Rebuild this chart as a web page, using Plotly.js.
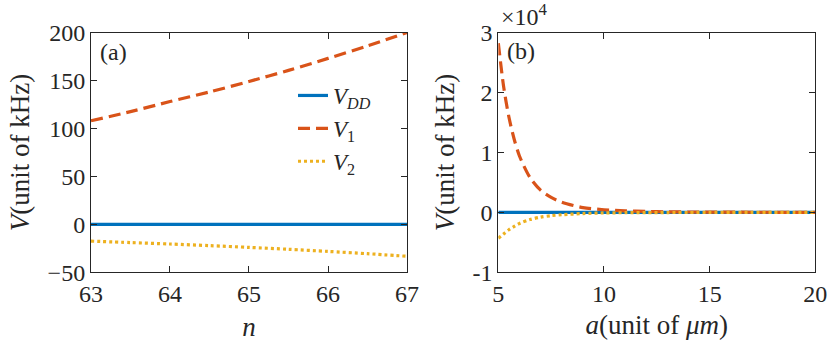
<!DOCTYPE html>
<html><head><meta charset="utf-8">
<script src="https://cdn.plot.ly/plotly-3.0.1.min.js"></script>
<style>
html,body{margin:0;padding:0;background:#fff}
#chart{width:830px;height:348px}
</style>
</head><body><div id="chart"></div>
<script>
// Panel (a): versus principal quantum number n
const nVals = [63, 63.5, 64, 64.5, 65, 65.5, 66, 66.5, 67];
const vddN  = [0, 0, 0, 0, 0, 0, 0, 0, 0];
const v1N   = [108, 117.5, 128, 138, 149, 160.5, 173, 186, 200];
const v2N   = [-17.5, -19, -20.5, -22.2, -24, -26, -28.2, -30.6, -33.3];
// Panel (b): versus distance a (um), values in kHz
const aVals = [5, 5.25, 5.5, 5.75, 6, 6.5, 7, 7.5, 8, 9, 10, 11, 12, 13, 14, 15, 16, 17, 18, 19, 20];
const vddA  = [0, 0, 0, 0, 0, 0, 0, 0, 0, 0, 0, 0, 0, 0, 0, 0, 0, 0, 0, 0, 0];
const v1A   = [28200, 21000, 15900, 12200, 9400, 5800, 3700, 2500, 1700, 800, 440, 250, 150, 90, 60, 40, 30, 20, 15, 10, 8];
const v2A   = [-4300, -3600, -2900, -2350, -1850, -1200, -800, -550, -400, -200, -100, -60, -40, -30, -20, -15, -10, -8, -6, -5, -4];
// Tick labels
const xTicksA = [63, 64, 65, 66, 67];
const yTicksA = [-50, 0, 50, 100, 150, 200];
const xTicksB = [5, 10, 15, 20];
const yTickValsB = [-10000, 0, 10000, 20000, 30000];
const yTickTextB = ['-1', '0', '1', '2', '3'];
const names = ['<i>V<sub>DD</sub></i>', '<i>V</i><sub>1</sub>', '<i>V</i><sub>2</sub>'];

const C = ['#0072BD', '#D95319', '#EDB120'];
const F = 'Liberation Serif';
const dashes = ['solid', '12px,6px', '3px,3px'];

function tr(x, y, i, xa, ya, showLeg) {
  return {x: x, y: y, type: 'scatter', mode: 'lines', name: names[i],
    xaxis: xa, yaxis: ya, showlegend: showLeg,
    line: {color: C[i], width: 3.2, dash: dashes[i], shape: 'spline', smoothing: 0.8}};
}
const data = [
  tr(nVals, vddN, 0, 'x', 'y', true),
  tr(nVals, v1N, 1, 'x', 'y', true),
  tr(nVals, v2N, 2, 'x', 'y', true),
  tr(aVals, vddA, 0, 'x2', 'y2', false),
  tr(aVals, v1A, 1, 'x2', 'y2', false),
  tr(aVals, v2A, 2, 'x2', 'y2', false)
];

function ax(extra) {
  return Object.assign({showline: true, linecolor: '#262626', linewidth: 1, mirror: 'allticks',
    ticks: 'inside', ticklen: 6, tickcolor: '#262626', showgrid: false, zeroline: false,
    tickfont: {family: F, size: 24}}, extra);
}
function tf() { return {family: F, size: 27}; }

const layout = {
  width: 830, height: 348,
  margin: {l: 0, r: 0, t: 0, b: 0},
  font: {family: F, size: 24, color: '#262626'},
  xaxis: ax({domain: [0.1096, 0.4904], range: [63, 67], tickvals: xTicksA,
    anchor: 'y', title: {text: '<i>n</i>', font: tf(), standoff: 10}}),
  yaxis: ax({domain: [0.2175, 0.9066], range: [-50, 200], tickvals: yTicksA,
    anchor: 'x', title: {text: '<i>V</i>(unit of kHz)', font: tf(), standoff: 10}}),
  xaxis2: ax({domain: [0.6004, 0.9823], range: [5, 20], tickvals: xTicksB,
    anchor: 'y2', title: {text: '<i>a</i>(unit of <i>&#956;m</i>)', font: tf(), standoff: 8}}),
  yaxis2: ax({domain: [0.2175, 0.9066], range: [-10000, 30000],
    tickvals: yTickValsB, ticktext: yTickTextB,
    anchor: 'x2', title: {text: '<i>V</i>(unit of kHz)', font: tf(), standoff: 10}}),
  legend: {bgcolor: 'rgba(0,0,0,0)', borderwidth: 0, yanchor: 'top', xanchor: 'left',
    x: 293 / 830, y: 1 - 74 / 348, font: {family: F, size: 23}},
  annotations: [
    {text: '(a)', xref: 'paper', yref: 'paper', x: 98 / 830, y: 1 - 52 / 348, xanchor: 'left', yanchor: 'middle',
      showarrow: false, font: {family: F, size: 24}},
    {text: '(b)', xref: 'paper', yref: 'paper', x: 505 / 830, y: 1 - 51 / 348, xanchor: 'left', yanchor: 'middle',
      showarrow: false, font: {family: F, size: 24}},
    {text: '&#215;10<sup>4</sup>', xref: 'paper', yref: 'paper', x: 499 / 830, y: 1 - 15 / 348, xanchor: 'left', yanchor: 'middle',
      showarrow: false, font: {family: F, size: 24}}
  ],
  showlegend: true
};
Plotly.newPlot('chart', data, layout, {displayModeBar: false});
</script>
</body></html>
